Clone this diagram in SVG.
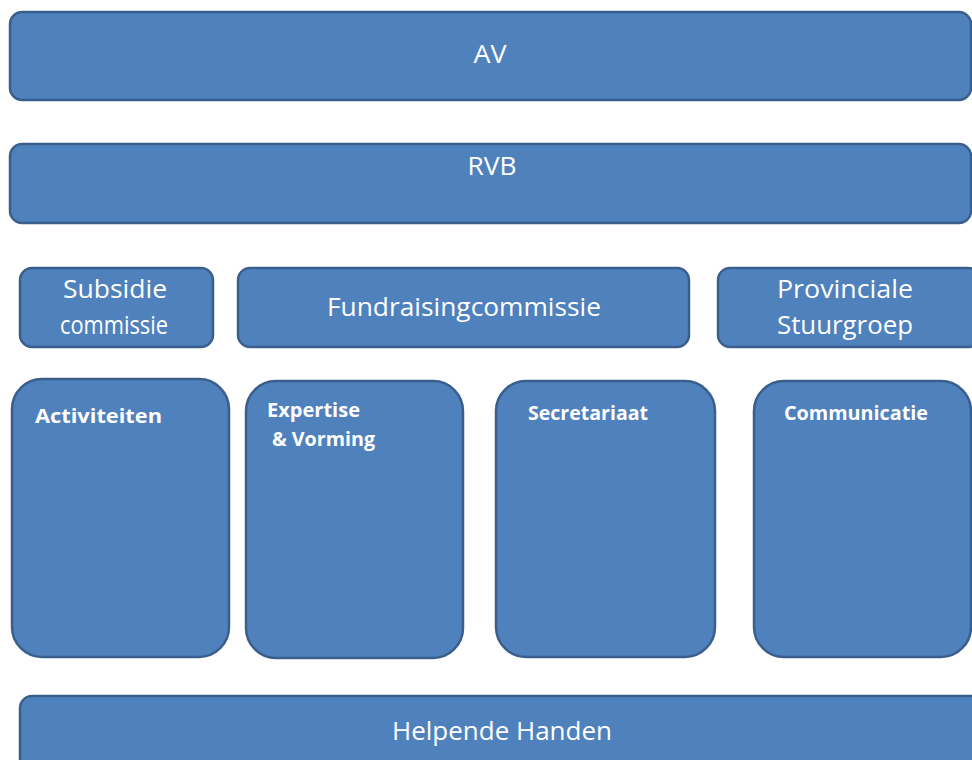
<svg xmlns="http://www.w3.org/2000/svg" width="972" height="760" viewBox="0 0 972 760">
<style>
.box{fill:#4F81BD;stroke:#3A5F8C;stroke-width:2.5}
.t{fill:#FFFFFF;font-family:"Open Sans","Liberation Sans",sans-serif;font-size:26px}
.b{fill:#FFFFFF;font-family:"Open Sans","Liberation Sans",sans-serif;font-size:19px;font-weight:bold}
</style>
<rect width="972" height="760" fill="#FFFFFF"/>
<g id="connectors"/>
<g id="av">
<rect class="box" x="10" y="12" width="961" height="88" rx="12"/>
<text class="t" x="490" y="63" text-anchor="middle" textLength="33" lengthAdjust="spacingAndGlyphs">AV</text>
</g>
<g id="rvb">
<rect class="box" x="10" y="144" width="961" height="79" rx="12"/>
<text class="t" x="492" y="175" text-anchor="middle" textLength="49" lengthAdjust="spacingAndGlyphs">RVB</text>
</g>
<g id="subsidie">
<rect class="box" x="20" y="268" width="193" height="79" rx="12"/>
<text class="t" x="115" y="298" text-anchor="middle" textLength="104" lengthAdjust="spacingAndGlyphs">Subsidie</text>
<text class="t" x="114" y="334" text-anchor="middle" textLength="108" lengthAdjust="spacingAndGlyphs">commissie</text>
</g>
<g id="fundraising">
<rect class="box" x="238" y="268" width="451" height="79" rx="12"/>
<text class="t" x="464" y="316" text-anchor="middle" textLength="274" lengthAdjust="spacingAndGlyphs">Fundraisingcommissie</text>
</g>
<g id="provinciale">
<rect class="box" x="718" y="268" width="262" height="79" rx="12"/>
<text class="t" x="845" y="298" text-anchor="middle" textLength="136" lengthAdjust="spacingAndGlyphs">Provinciale</text>
<text class="t" x="845" y="334" text-anchor="middle" textLength="136" lengthAdjust="spacingAndGlyphs">Stuurgroep</text>
</g>
<g id="activiteiten">
<rect class="box" x="12" y="379" width="217" height="278" rx="30"/>
<text class="b" x="35" y="423" textLength="127" lengthAdjust="spacingAndGlyphs">Activiteiten</text>
</g>
<g id="expertise">
<rect class="box" x="246" y="381" width="217" height="277" rx="30"/>
<text class="b" x="267" y="417" textLength="93" lengthAdjust="spacingAndGlyphs" font-weight="600">Expertise</text>
<text class="b" x="272" y="446" textLength="103" lengthAdjust="spacingAndGlyphs" font-weight="600">&amp; Vorming</text>
</g>
<g id="secretariaat">
<rect class="box" x="496" y="381" width="219" height="276" rx="30"/>
<text class="b" x="528" y="420" textLength="120" lengthAdjust="spacingAndGlyphs">Secretariaat</text>
</g>
<g id="communicatie">
<rect class="box" x="754" y="381" width="217" height="276" rx="30"/>
<text class="b" x="784" y="420" textLength="144" lengthAdjust="spacingAndGlyphs">Communicatie</text>
</g>
<g id="helpende">
<rect class="box" x="20" y="696" width="970" height="90" rx="12"/>
<text class="t" x="502" y="740" text-anchor="middle" textLength="220" lengthAdjust="spacingAndGlyphs">Helpende Handen</text>
</g>
</svg>
